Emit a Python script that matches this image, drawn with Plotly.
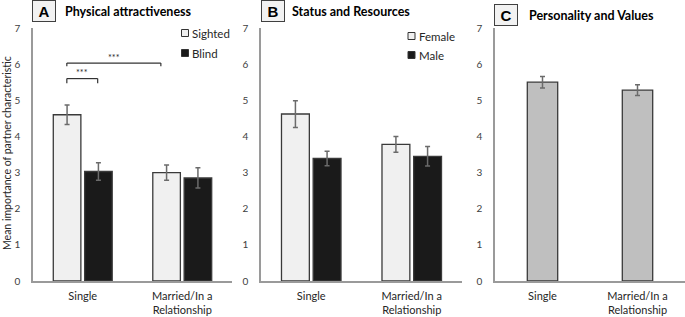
import plotly.graph_objects as go

W, H = 685, 317
MT, MB = 28, 36

categories = ["Single", "Married/In a<br>Relationship"]

# Panel A: Physical attractiveness
a_sighted = [4.60, 3.00]
a_sighted_err = [0.27, 0.21]
a_blind = [3.03, 2.85]
a_blind_err = [0.24, 0.28]

# Panel B: Status and Resources
b_female = [4.62, 3.78]
b_female_err = [0.37, 0.22]
b_male = [3.39, 3.45]
b_male_err = [0.20, 0.27]

# Panel C: Personality and Values
c_all = [5.50, 5.28]
c_all_err = [0.16, 0.15]

y_ticks = [0, 1, 2, 3, 4, 5, 6, 7]

LIGHT = "#f0f0f0"
DARK = "#1a1a1a"
MID = "#bfbfbf"
EDGE = "#3a3a3a"
ERR = "#6b6b6b"
AXIS = "#9a9a9a"
TXT = "#404040"
FONT = "Lato"


def bar(x_ref, y_ref, vals, errs, color):
    return go.Bar(
        x=categories, y=vals, xaxis=x_ref, yaxis=y_ref,
        marker=dict(color=color, line=dict(color=EDGE, width=1.3)),
        error_y=dict(type="data", array=errs, visible=True,
                     color=ERR, thickness=1.5, width=2.5),
        showlegend=False, hoverinfo="skip",
    )


fig = go.Figure()
fig.add_trace(bar("x", "y", a_sighted, a_sighted_err, LIGHT))
fig.add_trace(bar("x", "y", a_blind, a_blind_err, DARK))
fig.add_trace(bar("x2", "y2", b_female, b_female_err, LIGHT))
fig.add_trace(bar("x2", "y2", b_male, b_male_err, DARK))
fig.add_trace(bar("x3", "y3", c_all, c_all_err, MID))


def px(x):
    return x / W


def py(y):
    return (H - MB - y) / (H - MT - MB)


doms = [(33, 232), (261, 462), (495, 685)]

xcommon = dict(
    type="category", range=[-0.5, 1.5], showline=True, linecolor=AXIS,
    linewidth=1.5, showgrid=False, zeroline=False, ticks="",
    tickfont=dict(family=FONT, size=11, color="#262626"),
    ticklabelstandoff=4,
)
ycommon = dict(
    range=[0, 7], tickvals=y_ticks, showline=True, linecolor=AXIS,
    linewidth=1.5, showgrid=False, zeroline=False, ticks="",
    tickfont=dict(family=FONT, size=10, color=TXT),
    ticklabelstandoff=9, domain=[0, 1],
)

layout = dict(
    width=W, height=H,
    margin=dict(l=0, r=0, t=MT, b=MB, autoexpand=False),
    paper_bgcolor="white", plot_bgcolor="white",
    barmode="group", bargap=0.37, bargroupgap=0.12,
    showlegend=False,
)
for i, (a, b) in enumerate(doms):
    sfx = "" if i == 0 else str(i + 1)
    layout["xaxis" + sfx] = dict(xcommon, domain=[px(a), px(b)], anchor="y" + sfx)
    layout["yaxis" + sfx] = dict(ycommon, anchor="x" + sfx)
fig.update_layout(**layout)

# Panel C single-series bars are narrower
fig.data[4].update(width=0.32)

annotations = []
shapes = []

# panel letters and titles
panels = [
    ("A", 44, 11, "Physical attractiveness", 63, 12),
    ("B", 272.5, 11, "Status and Resources", 290, 12),
    ("C", 506, 15, "Personality and Values", 527, 15),
]
for letter, lx, ly, title, tx, ty in panels:
    annotations.append(dict(
        xref="paper", yref="paper", x=px(lx), y=py(ly), xanchor="center",
        yanchor="middle", text="<b>%s</b>" % letter, showarrow=False,
        font=dict(family="Liberation Sans", size=15, color="black"),
        bgcolor="#f2f2f2", bordercolor="#404040", borderwidth=1,
        width=20, height=18, borderpad=1,
    ))
    annotations.append(dict(
        xref="paper", yref="paper", x=px(tx), y=py(ty), xanchor="left",
        yanchor="middle", text="<b>%s</b>" % title, showarrow=False,
        font=dict(family=FONT, size=12.5, color="black"),
    ))

# legends
legends = [
    (181.5, 33, "Sighted", LIGHT), (181.5, 53, "Blind", DARK),
    (408, 36, "Female", LIGHT), (408, 55, "Male", DARK),
]
for lx, ly, name, col in legends:
    shapes.append(dict(
        type="rect", xref="paper", yref="paper",
        x0=px(lx), x1=px(lx + 7), y0=py(ly + 3.5), y1=py(ly - 3.5),
        fillcolor=col, line=dict(color="#333333", width=1),
    ))
    annotations.append(dict(
        xref="paper", yref="paper", x=px(lx + 8.5), y=py(ly), xanchor="left",
        yanchor="middle", text=name, showarrow=False,
        font=dict(family=FONT, size=11.5, color="#262626"),
    ))

# significance brackets (panel A)
brackets = [
    (-0.16, 0.15, 5.60, 5.47, 5.76),
    (-0.16, 0.785, 6.03, 5.94, 6.19),
]
for x0, x1, ytop, ybot, ytxt in brackets:
    for seg in [(x0, ytop, x1, ytop), (x0, ytop, x0, ybot), (x1, ytop, x1, ybot)]:
        shapes.append(dict(type="line", xref="x", yref="y",
                           x0=seg[0], y0=seg[1], x1=seg[2], y1=seg[3],
                           line=dict(color="#333333", width=1.2)))
    annotations.append(dict(
        xref="x", yref="y", x=(x0 + x1) / 2, y=ytxt, text="***",
        showarrow=False, font=dict(family=FONT, size=9, color="#262626"),
        xanchor="center", yanchor="middle",
    ))

# y-axis title
annotations.append(dict(
    xref="paper", yref="paper", x=px(7), y=py(153), xanchor="center",
    yanchor="middle", textangle=-90, showarrow=False,
    text="Mean importance of partner characteristic",
    font=dict(family=FONT, size=10.5, color="#262626"),
))

fig.update_layout(annotations=annotations, shapes=shapes)
fig.write_html("out.html", config={"displayModeBar": False},
               post_script="document.body.style.margin='0';")
